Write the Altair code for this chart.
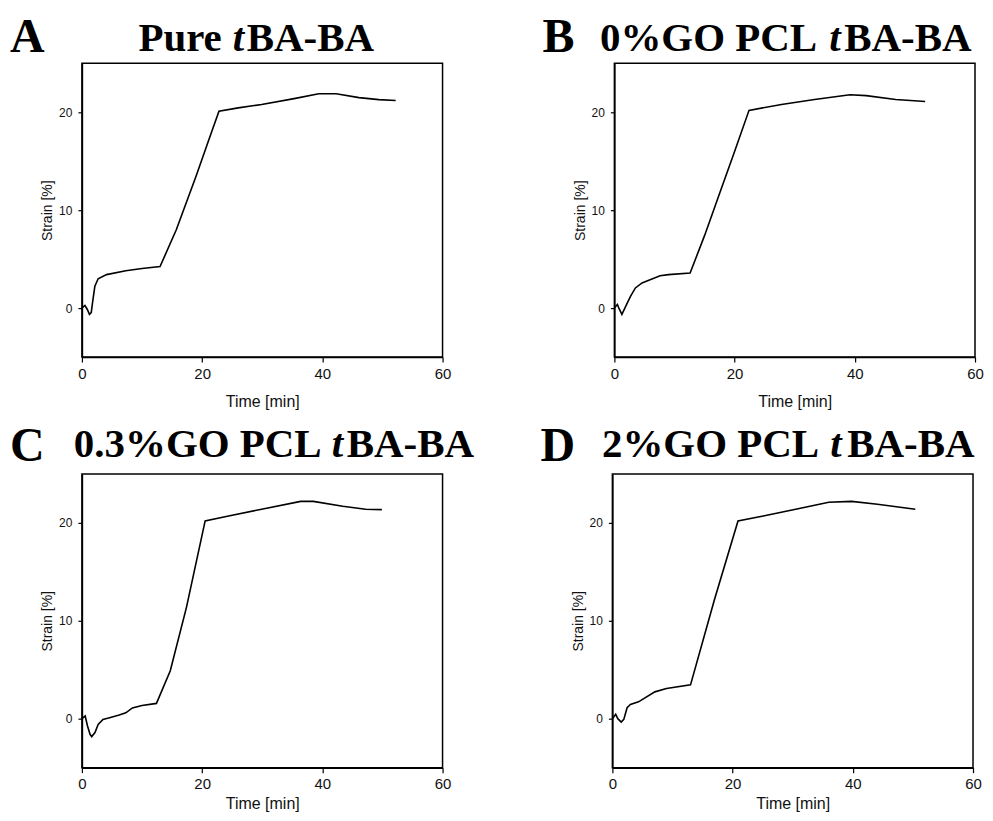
import altair as alt
import pandas as pd

# ---- data ----
panel_letters = ["A", "B", "C", "D"]
title_prefix = ["Pure", "0%GO PCL", "0.3%GO PCL", "2%GO PCL"]
title_italic = ["t", "t", "t", "t"]
title_suffix = ["BA-BA", "BA-BA", "BA-BA", "BA-BA"]

x_ticks = [0, 20, 40, 60]
y_ticks = [0, 10, 20]

A_time = [0, 0.5, 0.9, 1.25, 1.55, 1.8, 2.15, 2.7, 4.1, 7.3, 10.0, 13.0, 15.7, 19.0, 21.0, 22.8, 26.0, 29.9, 35.3, 39.4, 42.3, 46.1, 49.4, 52.2]
A_strain = [0, 0.27, -0.14, -0.64, -0.47, 0.71, 2.23, 3.0, 3.42, 3.82, 4.05, 4.25, 8.0, 13.5, 17.0, 20.1, 20.45, 20.8, 21.4, 21.9, 21.9, 21.5, 21.3, 21.2]

B_time = [0, 0.5, 0.75, 1.25, 1.9, 2.7, 3.5, 4.6, 6.25, 7.6, 9.0, 12.6, 15.0, 17.5, 20.0, 22.4, 27.8, 33.3, 39.2, 41.9, 46.8, 51.7]
B_strain = [0, 0.37, 0.0, -0.64, 0.2, 1.22, 2.06, 2.57, 2.97, 3.3, 3.42, 3.58, 7.4, 11.7, 16.0, 20.2, 20.8, 21.3, 21.8, 21.7, 21.3, 21.1]

C_time = [0, 0.54, 0.93, 1.35, 1.63, 2.17, 2.7, 3.5, 4.6, 6.2, 7.3, 8.4, 10.0, 12.4, 14.7, 17.4, 20.5, 24.4, 29.9, 36.4, 38.5, 43.4, 47.2, 49.9]
C_strain = [0, 0.27, -0.75, -1.6, -1.83, -1.42, -0.58, -0.07, 0.1, 0.37, 0.6, 1.1, 1.35, 1.56, 4.9, 11.4, 20.2, 20.7, 21.4, 22.2, 22.2, 21.7, 21.4, 21.35]

D_time = [0, 0.55, 0.9, 1.47, 1.9, 2.45, 3.0, 4.35, 7.07, 9.0, 13.0, 17.0, 20.9, 25.1, 30.5, 36.0, 39.8, 44.1, 50.4]
D_strain = [0, 0.44, 0.0, -0.34, -0.07, 1.12, 1.45, 1.72, 2.74, 3.08, 3.45, 12.2, 20.2, 20.7, 21.4, 22.1, 22.2, 21.9, 21.4]

series_time = [A_time, B_time, C_time, D_time]
series_strain = [A_strain, B_strain, C_strain, D_strain]

# ---- layout / style (positions relative to each panel's plot area) ----
W, H = 361, 294
SERIF = "Liberation Serif"
SANS = "Liberation Sans"
title_pos = [
    # letter_x, prefix_right, italic_left, suffix_left, letter_top, title_top, x_title_pad
    (-72, 140, 151, 165, -49, -44, 12),
    (-72, 203, 215, 230, -49, -44, 12),
    (-72, 240, 250, 265, -51, -49, 4),
    (-72, 207, 218, 235, -51, -49, 4),
]


def text_layer(txt, x, y, size, align, style="normal"):
    return alt.Chart(pd.DataFrame({"s": [txt]})).mark_text(
        font=SERIF, fontSize=size, fontWeight="bold", fontStyle=style,
        align=align, baseline="top", color="black",
    ).encode(text="s:N", x=alt.value(x), y=alt.value(y))


def panel(i):
    lx, pr, il, sl, lt, tt, xtp = title_pos[i]
    df = pd.DataFrame({"Time": series_time[i], "Strain": series_strain[i]})
    line = alt.Chart(df).mark_line(color="black", strokeWidth=1.6).encode(
        x=alt.X("Time:Q", scale=alt.Scale(domain=[0, 60], nice=False),
                axis=alt.Axis(values=x_ticks, title="Time [min]", grid=False,
                              labelFontSize=15, titleFontSize=16, tickSize=5,
                              labelPadding=4, titlePadding=xtp, labelFlush=False,
                              format="d")),
        y=alt.Y("Strain:Q", scale=alt.Scale(domain=[-5, 25], nice=False),
                axis=alt.Axis(values=y_ticks, title="Strain [%]", grid=False,
                              labelFontSize=12, titleFontSize=14, tickSize=4,
                              labelPadding=6, titlePadding=4, format="d")),
        order="idx:Q",
    ).transform_window(idx="row_number()")
    layers = [
        line,
        text_layer(panel_letters[i], lx, lt, 48, "left"),
        text_layer(title_prefix[i], pr, tt, 41, "right"),
        text_layer(title_italic[i], il, tt, 41, "left", "italic"),
        text_layer(title_suffix[i], sl, tt, 41, "left"),
    ]
    return alt.layer(*layers).properties(width=W, height=H)


top = alt.hconcat(panel(0), panel(1), spacing=89)
bottom = alt.hconcat(panel(2), panel(3), spacing=64)
chart = alt.vconcat(top, bottom, spacing=12).properties(
    padding={"left": 1, "top": 5, "right": 0, "bottom": 0}
).configure_view(stroke="black", strokeWidth=1.5).configure_axis(
    domainColor="black", tickColor="black", labelColor="#111", titleColor="#111",
    labelFont=SANS, titleFont=SANS, titleFontWeight="normal", domainWidth=1.5,
    tickWidth=1.2,
)

chart.save("out.html", embed_options={"renderer": "svg", "actions": False})
